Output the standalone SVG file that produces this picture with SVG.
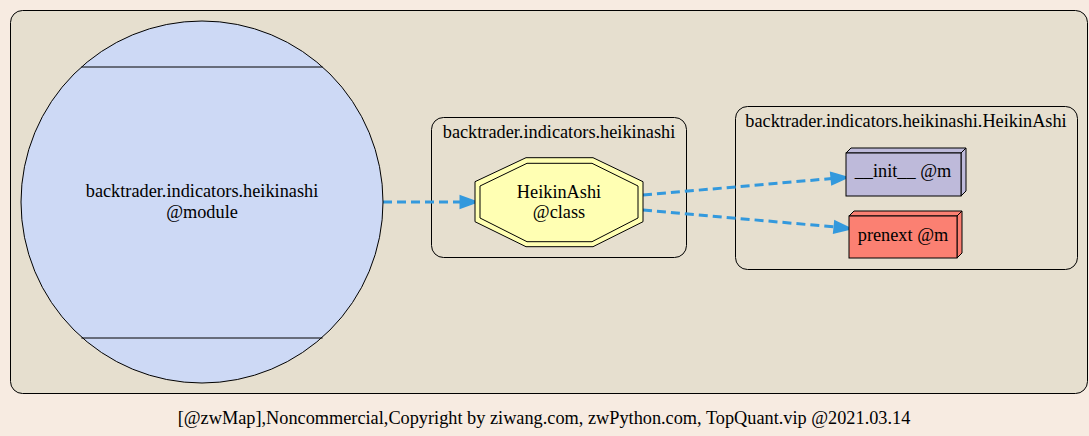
<svg xmlns="http://www.w3.org/2000/svg" width="1089" height="436" viewBox="0 0 1089 436">
<style>
text{font-family:"Liberation Serif","Times New Roman",serif;font-size:18.3px;fill:#000;text-anchor:middle}
.cl{fill:#e6dfcf;stroke:#000;stroke-width:1}
.e{fill:none;stroke:#3399dd;stroke-width:3;stroke-dasharray:9,5}
.ah{fill:#3399dd;stroke:#3399dd;stroke-width:3}
.nd{stroke:#000;stroke-width:1}
</style>
<rect x="0" y="0" width="1089" height="436" fill="#f7ebe1"/>
<g id="cluster_main">
<rect class="cl" x="10.5" y="10.5" width="1077" height="383" rx="12"/>
</g>
<g id="cluster_module">
<rect class="cl" x="431.5" y="117.5" width="255" height="140" rx="12"/>
<text x="559" y="138">backtrader.indicators.heikinashi</text>
</g>
<g id="cluster_class">
<rect class="cl" x="735.5" y="106.5" width="342" height="163" rx="12"/>
<text x="906" y="127">backtrader.indicators.heikinashi.HeikinAshi</text>
</g>
<g id="connectors">
<path class="e" d="M383,202 L461,202"/>
<polygon class="ah" points="461,197 475,202 461,207"/>
<path class="e" d="M643,195 L832,178.5"/>
<polygon class="ah" points="831.5,173.5 845.5,177.5 832.5,183.5"/>
<path class="e" d="M643,210 L835,227"/>
<polygon class="ah" points="835.5,222 849,228.5 834.5,232"/>
</g>
<g id="node_module">
<circle class="nd" cx="202" cy="202" r="181" fill="#cdd9f5"/>
<line class="nd" x1="81.4" y1="67" x2="322.6" y2="67" stroke="#333" stroke-width="1.5"/>
<line class="nd" x1="81.4" y1="338" x2="322.6" y2="338" stroke="#333" stroke-width="1.5"/>
<text x="202" y="197">backtrader.indicators.heikinashi</text>
<text x="202" y="218">@module</text>
</g>
<g id="node_HeikinAshi">
<polygon class="nd" fill="#ffffb3" points="526,157.7 593,157.7 643,181.7 643,221.7 593,246.7 526,246.7 475,221.7 475,181.7"/>
<polygon class="nd" fill="#ffffb3" points="527,163.3 592,163.3 638,186 638,218 592,241.7 527,241.7 480,218 480,186"/>
<text x="559" y="198">HeikinAshi</text>
<text x="559" y="218">@class</text>
</g>
<g id="node_init">
<polygon class="nd" fill="#bebada" points="846,153 851,148 966,148 961,153"/>
<polygon class="nd" fill="#bebada" points="961,153 966,148 966,191 961,196"/>
<rect class="nd" x="846" y="153" width="115" height="43" fill="#bebada"/>
<text x="903" y="177">__init__ @m</text>
</g>
<g id="node_prenext">
<polygon class="nd" fill="#fb8072" points="849,216 854,211 962,211 957,216"/>
<polygon class="nd" fill="#fb8072" points="957,216 962,211 962,253 957,258"/>
<rect class="nd" x="849" y="216" width="108" height="42" fill="#fb8072"/>
<text x="903" y="241">prenext @m</text>
</g>
<text x="544" y="424">[@zwMap],Noncommercial,Copyright by ziwang.com, zwPython.com, TopQuant.vip @2021.03.14</text>
</svg>
